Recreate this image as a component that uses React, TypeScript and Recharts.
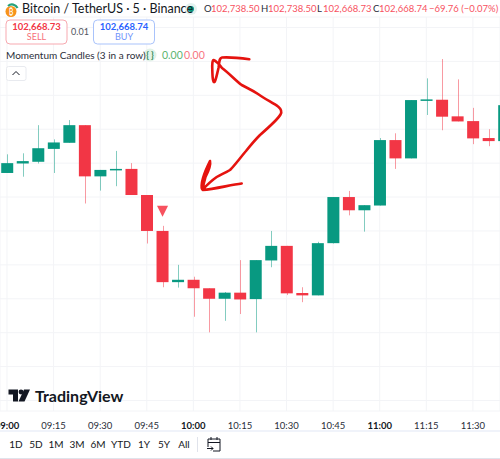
import React from 'react';
import { ComposedChart, Bar, XAxis, YAxis, CartesianGrid } from 'recharts';

const times = ['09:00','09:05','09:10','09:15','09:20','09:25','09:30','09:35','09:40','09:45','09:50','09:55','10:00','10:05','10:10','10:15','10:20','10:25','10:30','10:35','10:40','10:45','10:50','10:55','11:00','11:05','11:10','11:15','11:20','11:25','11:30','11:35','11:40'];
const opens = [102571,102599,102604,102642,102660,102712,102561,102579,102583,102506,102400,102249,102256,102231,102200,102218,102199,102313,102356,102217,102210,102364,102500,102461,102475,102668,102614,102785,102787,102738,102724,102674,102665];
const highs = [102626,102629,102712,102670,102727,102712,102580,102636,102600,102506,102415,102300,102265,102231,102220,102314,102314,102400,102356,102234,102368,102500,102518,102476,102674,102688,102786,102850,102907,102847,102763,102700,102771];
const lows = [102571,102560,102599,102571,102660,102481,102519,102532,102506,102363,102234,102233,102147,102101,102135,102155,102101,102293,102211,102190,102210,102363,102446,102398,102475,102583,102614,102742,102697,102723,102656,102650,102665];
const closes = [102600,102606,102644,102661,102712,102561,102580,102583,102506,102400,102249,102256,102231,102200,102218,102198,102314,102356,102216,102210,102364,102500,102461,102476,102668,102614,102786,102788,102737,102723,102673,102665,102771];
const signalTimes = ['09:50'];
const gridPrices = [103000,102900,102800,102700,102600,102500,102400,102300,102200,102100,102000,101900];
const tickTimes = ['09:00','09:15','09:30','09:45','10:00','10:15','10:30','10:45','11:00','11:15','11:30'];
const rangeButtons = [['1D',16],['5D',36],['1M',56],['3M',77],['6M',98],['YTD',121],['1Y',144],['5Y',164],['All',184]] as const;

const toMin = (t: string) => { const [h, m] = t.split(':').map(Number); return h * 60 + m; };
const rows = times.map((t, i) => ({ t, min: toMin(t), open: opens[i], high: highs[i], low: lows[i], close: closes[i], signal: signalTimes.includes(t) }));

const UP = '#089981';
const DOWN = '#F23645';
const FONT = 'Lato, "Noto Sans", sans-serif';

function Candle(props: any) {
  const { x, width, y, height, payload } = props;
  const h = Math.abs(height);
  const top = height < 0 ? y + height : y;
  const k = h / (payload.high - payload.low);
  const cx = x + width / 2;
  const bt = top + (payload.high - Math.max(payload.open, payload.close)) * k;
  const bb = top + (payload.high - Math.min(payload.open, payload.close)) * k;
  const up = payload.close >= payload.open;
  const c = up ? UP : DOWN;
  return (
    <g>
      <line x1={Math.round(cx) + 0.5} x2={Math.round(cx) + 0.5} y1={top} y2={top + h} stroke={c} strokeOpacity={0.5} strokeWidth={1} />
      <rect x={cx - 6} y={bt} width={12} height={Math.max(bb - bt, 1.5)} fill={c} />
      {payload.signal && (
        <polygon points={`${cx - 5.5},${top - 20} ${cx + 5.5},${top - 20} ${cx},${top - 9}`} fill="#F7525F" />
      )}
    </g>
  );
}

function TimeTick(props: any) {
  const { x, y, payload } = props;
  const label = times[(payload.value - 540) / 5] ?? '';
  const bold = label.endsWith(':00');
  return (
    <text x={x} y={y + 12} textAnchor="middle" fontSize={9.5} fontWeight={bold ? 700 : 400} fill={bold ? '#131722' : '#2a2e39'} fontFamily={FONT}>
      {label}
    </text>
  );
}

const T = ({ x, y, s, c = '#131722', anchor = 'start', w = 400, f = FONT }: any) => (
  <span style={{ position: 'absolute', left: anchor === 'middle' ? x - 60 : x, top: y, width: anchor === 'middle' ? 120 : undefined, textAlign: anchor === 'middle' ? 'center' : 'left', fontFamily: f, fontSize: s.size, lineHeight: '14px', color: c, fontWeight: w, whiteSpace: 'nowrap' }}>{s.text}</span>
);

export default function App() {
  return (
    <div style={{ position: 'absolute', left: 0, top: 0, width: 500, height: 459, background: '#fff', overflow: 'hidden' }}>
      <ComposedChart width={500} height={431} data={rows} margin={{ top: 17, right: 0, bottom: 0, left: 0 }}>
        <CartesianGrid stroke="#f3f4f7" strokeWidth={1} />
        <XAxis dataKey="min" type="number" domain={[537.75, 698.72]} allowDataOverflow ticks={tickTimes.map(toMin)} interval={0} height={20} tickLine={false} axisLine={false} tick={<TimeTick />} tickMargin={0} />
        <YAxis hide type="number" domain={[101869, 103031]} allowDataOverflow ticks={gridPrices} width={0} />
        <Bar dataKey={(d: any) => [d.low, d.high]} barSize={12} shape={<Candle />} isAnimationActive={false} />
      </ComposedChart>

      <svg width={500} height={459} style={{ position: 'absolute', left: 0, top: 0, pointerEvents: 'none' }}>
        <path d="M249.3 59.3 C240 58 230 57 222 57.5 C219 58 219.5 62 218.5 68 C217 74 216 80 214.5 82 C213 83 212.5 78 212.3 70 C212 64 212.5 60 213.5 60 C216 61 219 64 222 68 C230 74 236 81 241.7 85 C247 88 252 90 258 94 C265 99 273 103 278.3 106.7 C281 109 282 112 280.5 114.5 C278 119 268 128 260 135 C254 141 250 146 246 151 C240 158 235 165 230 170 C225 173 220 175 216.7 177 C211 181 206 186 202.7 189.5 C201 189 201.5 183 203 178 C205 171 208 165 210 161 C211 165 208 172 205.5 177 C204 182 203 187 202.7 190 C215 189 230 185 241.7 183.5" fill="none" stroke="#E5130F" strokeWidth={2.6} strokeLinecap="round" strokeLinejoin="round" />
        <circle cx={11} cy={11.5} r={5.5} fill="#F7931A" />
        <text x={11} y={14.5} textAnchor="middle" fontSize={8} fill="#fff" fontFamily={FONT}>₿</text>
        <path d="M8 6 A6 6 0 0 1 17.5 8" fill="none" stroke="#26A17B" strokeWidth={2.2} />
        <circle cx={191} cy={9} r={6} fill="#E3F2EF" />
        <circle cx={191} cy={9} r={3} fill="#089981" />
        <rect x={6} y={20} width={61} height={24} rx={4} fill="#fff" stroke="#F7A9B0" />
        <rect x={93.5} y={20} width={61} height={24} rx={4} fill="#fff" stroke="#A9C3FB" />
        <circle cx={150} cy={55} r={6.5} fill="#E3F2E8" />
        <text x={150} y={58} textAnchor="middle" fontSize={9} fontWeight={700} fill="#2E8B57" fontFamily={FONT}>{'{ }'}</text>
        <rect x={6.5} y={66.5} width={19.5} height={14} rx={2} fill="#fff" stroke="#E8EAEF" />
        <path d="M12.5 75 L16 71.5 L19.5 75" fill="none" stroke="#131722" strokeWidth={1} />
        <polygon points="8.5,389.5 18,389.5 18,401.5 13,401.5 13,394.5 8.5,394.5" fill="#131722" />
        <circle cx={21} cy={392} r={2.4} fill="#131722" />
        <polygon points="24,389.5 30,389.5 24.5,401.5 18.5,401.5" fill="#131722" />
        <rect x={0} y={430} width={500} height={2} fill="#F0F3FA" />
        <rect x={0} y={458} width={500} height={1} fill="#E0E3EB" />
        <rect x={197} y={437} width={1} height={15} fill="#E0E3EB" />
        <g fill="none" stroke="#131722" strokeWidth={1}>
          <path d="M208 447 V439 H220 V451 H213" />
          <path d="M208 442.5 H220 M211 437 V440 M217 437 V440" />
          <path d="M207 448.5 H213 M211 446.5 L213 448.5 L211 450.5" />
        </g>
      </svg>

      <T x={22} y={2} s={{ text: 'Bitcoin / TetherUS · 5 · Binance', size: 12.5 }} />
      <T x={204} y={2} s={{ text: 'O', size: 9.5 }} c="#2a2e39" />
      <T x={211} y={2} s={{ text: '102,738.50', size: 9.5 }} c="#F7525F" />
      <T x={261} y={2} s={{ text: 'H', size: 9.5 }} c="#2a2e39" />
      <T x={268} y={2} s={{ text: '102,738.50', size: 9.5 }} c="#F7525F" />
      <T x={317} y={2} s={{ text: 'L', size: 9.5 }} c="#2a2e39" />
      <T x={323} y={2} s={{ text: '102,668.73', size: 9.5 }} c="#F7525F" />
      <T x={373} y={2} s={{ text: 'C', size: 9.5 }} c="#2a2e39" />
      <T x={379} y={2} s={{ text: '102,668.74', size: 9.5 }} c="#F7525F" />
      <T x={429} y={2} s={{ text: '−69.76 (−0.07%)', size: 9.5 }} c="#F7525F" />

      <T x={36.5} y={20} anchor="middle" s={{ text: '102,668.73', size: 9.5 }} c="#F23645" w={700} />
      <T x={36.5} y={30} anchor="middle" s={{ text: 'SELL', size: 9 }} c="#F7707A" />
      <T x={124} y={20} anchor="middle" s={{ text: '102,668.74', size: 9.5 }} c="#2962FF" w={700} />
      <T x={124} y={30} anchor="middle" s={{ text: 'BUY', size: 9 }} c="#6F94FB" />
      <T x={80} y={25} anchor="middle" s={{ text: '0.01', size: 9 }} c="#50535E" />

      <T x={6} y={48} s={{ text: 'Momentum Candles (3 in a row)', size: 10 }} c="#2a2e39" />
      <T x={162} y={48} s={{ text: '0.00', size: 10.5 }} c="#5DB56F" />
      <T x={184} y={48} s={{ text: '0.00', size: 10.5 }} c="#F7767F" />

      <T x={35} y={389} s={{ text: 'TradingView', size: 16 }} c="#131722" w={700} />

      {rangeButtons.map(([label, x]) => (
        <T key={label} x={x} y={437} anchor="middle" s={{ text: label, size: 10 }} c="#131722" />
      ))}
    </div>
  );
}
